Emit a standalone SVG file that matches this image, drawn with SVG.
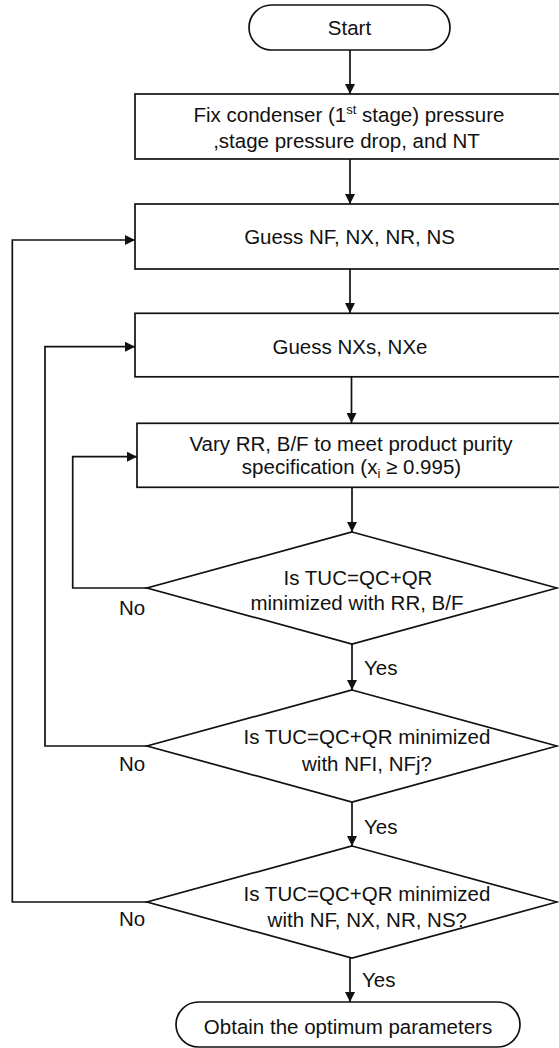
<svg xmlns="http://www.w3.org/2000/svg" width="559" height="1048" viewBox="0 0 559 1048">
<style>
.s{fill:#fff;stroke:#111;stroke-width:1.7}
.t{font-family:"Liberation Sans",Arial,sans-serif;font-size:20.5px;fill:#111;text-anchor:middle}
.l{font-family:"Liberation Sans",Arial,sans-serif;font-size:20.5px;fill:#111}
.c{fill:none;stroke:#111;stroke-width:1.7}
</style>
<defs>
<marker id="ah" viewBox="0 0 10 10" refX="10" refY="5" markerWidth="10" markerHeight="10" markerUnits="userSpaceOnUse" orient="auto">
<path d="M0,0 L10,5 L0,10 Z" fill="#111"/>
</marker>
</defs>
<g id="connectors">
<path class="c" d="M350,50 V94" marker-end="url(#ah)"/>
<path class="c" d="M350,159 V204" marker-end="url(#ah)"/>
<path class="c" d="M350,269 V313" marker-end="url(#ah)"/>
<path class="c" d="M351.5,377 V423" marker-end="url(#ah)"/>
<path class="c" d="M352,487 V532" marker-end="url(#ah)"/>
<path class="c" d="M352,644 V690" marker-end="url(#ah)"/>
<path class="c" d="M352,802 V846" marker-end="url(#ah)"/>
<path class="c" d="M350,958 V1002" marker-end="url(#ah)"/>
<path class="c" d="M147,588 H72.7 V456.7 H137" marker-end="url(#ah)"/>
<path class="c" d="M147,746 H45 V346.7 H135" marker-end="url(#ah)"/>
<path class="c" d="M147,902 H12.3 V240 H135" marker-end="url(#ah)"/>
<text class="l" x="364" y="675">Yes</text>
<text class="l" x="364" y="834">Yes</text>
<text class="l" x="362" y="987">Yes</text>
<text class="l" x="119" y="614.5">No</text>
<text class="l" x="119" y="770.5">No</text>
<text class="l" x="119" y="925.5">No</text>
</g>
<g id="start">
<rect class="s" x="249" y="5" width="201" height="45" rx="22.5"/>
<text class="t" x="349.5" y="35">Start</text>
</g>
<g id="fix">
<rect class="s" x="135" y="94" width="436" height="65"/>
<text class="t" x="349" y="122">Fix condenser (1<tspan font-size="13" dy="-8">st</tspan><tspan dy="8"> stage) pressure</tspan></text>
<text class="t" x="346.5" y="147.5">,stage pressure drop, and NT</text>
</g>
<g id="guess1">
<rect class="s" x="135" y="204" width="436" height="65"/>
<text class="t" x="349.5" y="244">Guess NF, NX, NR, NS</text>
</g>
<g id="guess2">
<rect class="s" x="135" y="313.3" width="436" height="63.5"/>
<text class="t" x="350" y="354">Guess NXs, NXe</text>
</g>
<g id="vary">
<rect class="s" x="137" y="423.3" width="434" height="64"/>
<text class="t" x="351" y="450.5">Vary RR, B/F to meet product purity</text>
<text class="t" x="351.5" y="474">specification (x<tspan font-size="13" dy="4">i</tspan><tspan dy="-4"> ≥ 0.995)</tspan></text>
</g>
<g id="d1">
<polygon class="s" points="352,532 557,588 352,644 147,588"/>
<text class="t" x="358" y="584.5">Is TUC=QC+QR</text>
<text class="t" x="357" y="610">minimized with RR, B/F</text>
</g>
<g id="d2">
<polygon class="s" points="352,690 557,746 352,802 147,746"/>
<text class="t" x="367" y="744">Is TUC=QC+QR minimized</text>
<text class="t" x="367" y="770.5">with NFI, NFj?</text>
</g>
<g id="d3">
<polygon class="s" points="352,846 557,902 352,958 147,902"/>
<text class="t" x="367" y="900.5">Is TUC=QC+QR minimized</text>
<text class="t" x="367.3" y="927">with NF, NX, NR, NS?</text>
</g>
<g id="end">
<rect class="s" x="176" y="1002" width="344" height="45" rx="22.5"/>
<text class="t" x="348" y="1034">Obtain the optimum parameters</text>
</g>
</svg>
